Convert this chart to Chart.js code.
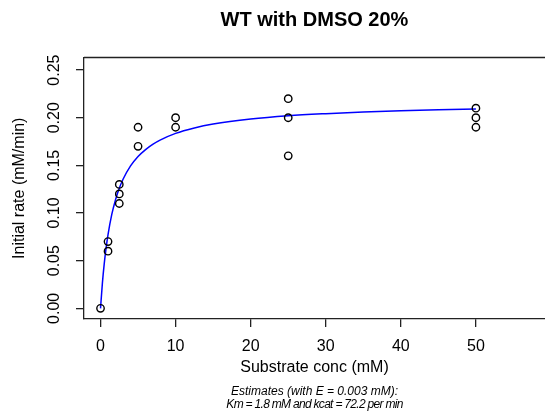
<!DOCTYPE html>
<html>
<head>
<meta charset="utf-8">
<title>WT with DMSO 20%</title>
<script src="https://cdn.jsdelivr.net/npm/chart.js@4"></script>
<style>
    html, body { margin: 0; padding: 0; background: #fff; }
    canvas { display: block; }
</style>
</head>
<body>
<canvas id="chart" width="545" height="419"></canvas>
<script>
// measured rates (substrate conc in mM, initial rate in mM/min)
const substrateConc = [0, 1, 1, 2.5, 2.5, 2.5, 5, 5, 10, 10, 25, 25, 25, 50, 50, 50];
const initialRate = [0, 0.06, 0.07, 0.11, 0.12, 0.13, 0.17, 0.19, 0.19, 0.20, 0.16, 0.20, 0.22, 0.19, 0.20, 0.21];

// fitted curve
const fitConc = [0, 0.25, 0.5, 0.75, 1, 1.5, 2, 2.5, 3, 4, 5, 6, 7, 8, 10, 12.5, 15, 20, 25, 30, 35, 40, 45, 50];
const fitRate = [0, 0.0264, 0.0471, 0.0637, 0.0774, 0.0985, 0.1140, 0.1259, 0.1354, 0.1494, 0.1593, 0.1666, 0.1723, 0.1768,
    0.1836, 0.1893, 0.1934, 0.1987, 0.2021, 0.2043, 0.2060, 0.2073, 0.2083, 0.2091];

const xTicks = [0, 10, 20, 30, 40, 50];
const yTicks = [0, 0.05, 0.10, 0.15, 0.20, 0.25];

const noteLines = ['Estimates (with E = 0.003 mM):', 'Km = 1.8 mM and kcat = 72.2 per min'];

const FONT = '"Liberation Sans", Arial, Helvetica, sans-serif';
Chart.defaults.font.family = FONT;
Chart.defaults.color = '#000';

// R style box: draw the top edge, axes draw left and bottom
const topEdge = {
    id: 'topEdge',
    afterDraw(chart) {
        const { ctx, chartArea } = chart;
        ctx.save();
        ctx.strokeStyle = '#222';
        ctx.lineWidth = 1.3;
        ctx.beginPath();
        ctx.moveTo(chartArea.left, chartArea.top);
        ctx.lineTo(chartArea.right, chartArea.top);
        ctx.stroke();
        ctx.restore();
    }
};

// the two italic lines under the x axis title
const notes = {
    id: 'notes',
    afterDraw(chart) {
        const { ctx, chartArea } = chart;
        const cx = (chartArea.left + chartArea.right) / 2;
        ctx.save();
        ctx.fillStyle = '#000';
        ctx.font = 'italic 12px ' + FONT;
        ctx.textAlign = 'center';
        ctx.textBaseline = 'middle';
        ctx.fillText(noteLines[0], cx, 392);
        ctx.letterSpacing = '-0.7px';
        ctx.fillText(noteLines[1], cx, 405);
        ctx.restore();
    }
};

const points = substrateConc.map((x, i) => ({ x, y: initialRate[i] }));
const curve = fitConc.map((x, i) => ({ x, y: fitRate[i] }));

new Chart(document.getElementById('chart'), {
    type: 'scatter',
    data: {
        datasets: [
            {
                label: 'fit',
                data: curve,
                showLine: true,
                borderColor: '#0000ff',
                borderWidth: 1.5,
                pointRadius: 0,
                cubicInterpolationMode: 'monotone',
                order: 2
            },
            {
                label: 'data',
                data: points,
                pointStyle: 'circle',
                pointRadius: 3.7,
                borderWidth: 1.4,
                borderColor: '#000',
                backgroundColor: 'rgba(0,0,0,0)',
                order: 1
            }
        ]
    },
    options: {
        responsive: false,
        animation: false,
        devicePixelRatio: 1,
        layout: { padding: 0, autoPadding: false },
        plugins: {
            legend: { display: false },
            tooltip: { enabled: false },
            title: {
                display: true,
                text: 'WT with DMSO 20%',
                fullSize: false,
                font: { size: 20, weight: 'bold' },
                color: '#000',
                padding: { top: 8, bottom: 25.5 }
            }
        },
        scales: {
            x: {
                type: 'linear',
                min: -2.2,
                max: 59.2,
                afterFit(scale) {
                    scale.height = 100;
                    scale.paddingLeft = 0;
                    scale.paddingRight = 0;
                },
                afterBuildTicks(scale) { scale.ticks = xTicks.map(v => ({ value: v })); },
                ticks: {
                    padding: 10.4,
                    font: { size: 16 },
                    color: '#000',
                    callback: v => String(v)
                },
                grid: {
                    display: true,
                    drawOnChartArea: false,
                    drawTicks: true,
                    tickLength: 8,
                    color: '#222',
                    lineWidth: 1.3
                },
                border: { display: true, color: '#222', width: 1.3 },
                title: {
                    display: true,
                    text: 'Substrate conc (mM)',
                    font: { size: 16 },
                    color: '#000',
                    padding: { top: 0, bottom: 41.4 }
                }
            },
            y: {
                type: 'linear',
                min: -0.0112,
                max: 0.2632,
                afterFit(scale) {
                    scale.width = 84;
                    scale.paddingTop = 0;
                    scale.paddingBottom = 0;
                },
                afterBuildTicks(scale) { scale.ticks = yTicks.map(v => ({ value: v })); },
                ticks: {
                    padding: 5.4,
                    minRotation: 90,
                    maxRotation: 90,
                    crossAlign: 'center',
                    font: { size: 16 },
                    color: '#000',
                    callback: v => Number(v).toFixed(2)
                },
                grid: {
                    display: true,
                    drawOnChartArea: false,
                    drawTicks: true,
                    tickLength: 8,
                    color: '#222',
                    lineWidth: 1.3
                },
                border: { display: true, color: '#222', width: 1.3 },
                title: {
                    display: true,
                    text: 'Initial rate (mM/min)',
                    font: { size: 16 },
                    color: '#000',
                    padding: { top: 10.4, bottom: 0 }
                }
            }
        }
    },
    plugins: [topEdge, notes]
});
</script>
</body>
</html>
